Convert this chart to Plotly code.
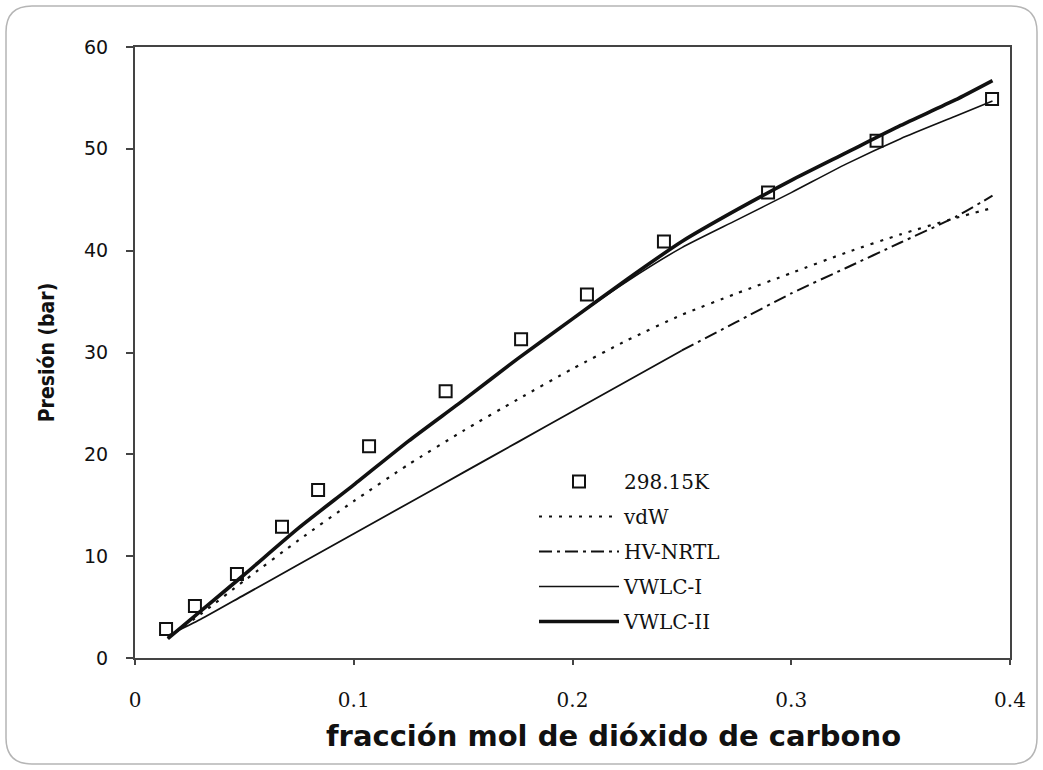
import plotly.graph_objects as go

# Experimental bubble-point pressures at 298.15 K
x_exp = [0.0142, 0.0274, 0.0466, 0.0672, 0.0837, 0.107, 0.142, 0.1765, 0.2066, 0.2418, 0.2894, 0.339, 0.3918]
p_exp = [2.85, 5.1, 8.25, 12.9, 16.5, 20.8, 26.2, 31.3, 35.7, 40.9, 45.7, 50.8, 54.9]

# Model composition grid
x_mod = [0.015, 0.03, 0.05, 0.075, 0.1, 0.125, 0.15, 0.175, 0.2, 0.225,
         0.25, 0.275, 0.3, 0.325, 0.35, 0.375, 0.392]

p_vdw = [2.0, 4.3, 7.6, 11.6, 15.4, 19.0, 22.3, 25.4, 28.4, 31.2,
         33.7, 35.8, 37.8, 39.8, 41.6, 43.2, 44.2]
p_hvnrtl = [2.2, 3.8, 6.2, 9.2, 12.2, 15.2, 18.2, 21.2, 24.2, 27.2,
            30.2, 33.0, 35.8, 38.3, 40.8, 43.3, 45.4]
p_vwlc1 = [1.9, 4.6, 8.2, 12.8, 17.0, 21.3, 25.3, 29.4, 33.3, 37.0,
           40.3, 43.0, 45.7, 48.5, 51.0, 53.2, 54.7]
p_vwlc2 = [1.9, 4.6, 8.2, 12.8, 17.0, 21.3, 25.3, 29.4, 33.3, 37.2,
           40.9, 44.0, 46.9, 49.6, 52.3, 54.8, 56.7]

x_ticks = [0, 0.1, 0.2, 0.3, 0.4]
x_ticktext = ["0", "0.1", "0.2", "0.3", "0.4"]
y_ticks = [0, 10, 20, 30, 40, 50, 60]

x_title = "fracción mol de dióxido de carbono"
y_title = "Presión (bar)"

legend_font = dict(family="DejaVu Serif", size=20, color="#111")
curve = dict(shape="spline", smoothing=0.6)

fig = go.Figure()

fig.add_trace(go.Scatter(
    x=x_exp, y=p_exp, mode="markers", name="298.15K",
    marker=dict(symbol="square-open", size=12, color="#111", line=dict(width=2, color="#111")),
    legendgroup="a", legendrank=1,
))
fig.add_trace(go.Scatter(
    x=x_mod, y=p_vdw, mode="lines", name="vdW",
    line=dict(color="#111", width=2.2, dash="3px,7px", **curve),
    legendgroup="b", legendrank=2,
))
# HV-NRTL: continuous at low loading, dash-dot further along
split = x_mod.index(0.25)
fig.add_trace(go.Scatter(
    x=x_mod[:split + 1], y=p_hvnrtl[:split + 1], mode="lines",
    line=dict(color="#111", width=1.8, **curve), showlegend=False, hoverinfo="skip",
    legendgroup="c",
))
fig.add_trace(go.Scatter(
    x=x_mod[split:], y=p_hvnrtl[split:], mode="lines", name="HV-NRTL",
    line=dict(color="#111", width=2, dash="13px,5px,3px,5px", **curve),
    legendgroup="c", legendrank=3,
))
fig.add_trace(go.Scatter(
    x=x_mod, y=p_vwlc1, mode="lines", name="VWLC-I",
    line=dict(color="#111", width=1.6, **curve),
    legendgroup="d", legendrank=4,
))
fig.add_trace(go.Scatter(
    x=x_mod, y=p_vwlc2, mode="lines", name="VWLC-II",
    line=dict(color="#111", width=3.6, **curve),
    legendgroup="e", legendrank=5,
))

# Rounded frame around the whole figure (paper units)
L, R, T, B = 135, 1010, 47, 658
pw, ph = R - L, B - T
def px(v):
    return (v - L) / pw
def py(v):
    return (B - v) / ph
fx0, fx1, fy0, fy1 = px(6), px(1037), py(764), py(6)
rx, ry = 26 / pw, 26 / ph
frame = (f"M {fx0 + rx},{fy1} L {fx1 - rx},{fy1} Q {fx1},{fy1} {fx1},{fy1 - ry} "
         f"L {fx1},{fy0 + ry} Q {fx1},{fy0} {fx1 - rx},{fy0} "
         f"L {fx0 + rx},{fy0} Q {fx0},{fy0} {fx0},{fy0 + ry} "
         f"L {fx0},{fy1 - ry} Q {fx0},{fy1} {fx0 + rx},{fy1} Z")

fig.update_layout(
    width=1043, height=770,
    margin=dict(l=L, r=1043 - R, t=T, b=770 - B),
    paper_bgcolor="white", plot_bgcolor="white",
    shapes=[dict(type="path", xref="paper", yref="paper", path=frame,
                 line=dict(color="#b5b5b5", width=1.5), layer="below")],
    annotations=[dict(
        text=x_title, xref="paper", yref="paper", x=px(613), y=py(736),
        xanchor="center", yanchor="middle", showarrow=False,
        font=dict(family="DejaVu Sans", size=29, color="#111", weight="bold"),
    )],
    showlegend=True,
    legend=dict(
        x=px(534), y=py(462), xanchor="left", yanchor="top",
        bgcolor="rgba(0,0,0,0)", font=legend_font,
        itemwidth=80, tracegroupgap=6, traceorder="grouped",
    ),
    xaxis=dict(
        range=[0, 0.4], tickvals=x_ticks, ticktext=x_ticktext,
        showgrid=False, zeroline=False,
        showline=True, linecolor="#444", linewidth=2, mirror=True,
        ticks="outside", ticklen=5, tickcolor="#444", tickwidth=1.5,
        ticklabelstandoff=18,
        tickfont=dict(family="DejaVu Serif", size=20, color="#111"),
    ),
    yaxis=dict(
        range=[0, 60], tickvals=y_ticks,
        showgrid=False, zeroline=False,
        showline=True, linecolor="#444", linewidth=2, mirror=True,
        ticks="outside", ticklen=7, tickcolor="#444", tickwidth=1.5,
        ticklabelstandoff=14,
        tickfont=dict(family="DejaVu Sans", size=19, color="#111"),
        title=dict(text=y_title, standoff=24,
                   font=dict(family="DejaVu Sans Condensed, Liberation Sans Narrow", size=21,
                             color="#111", weight="bold")),
    ),
)

fig.write_html("out.html")
